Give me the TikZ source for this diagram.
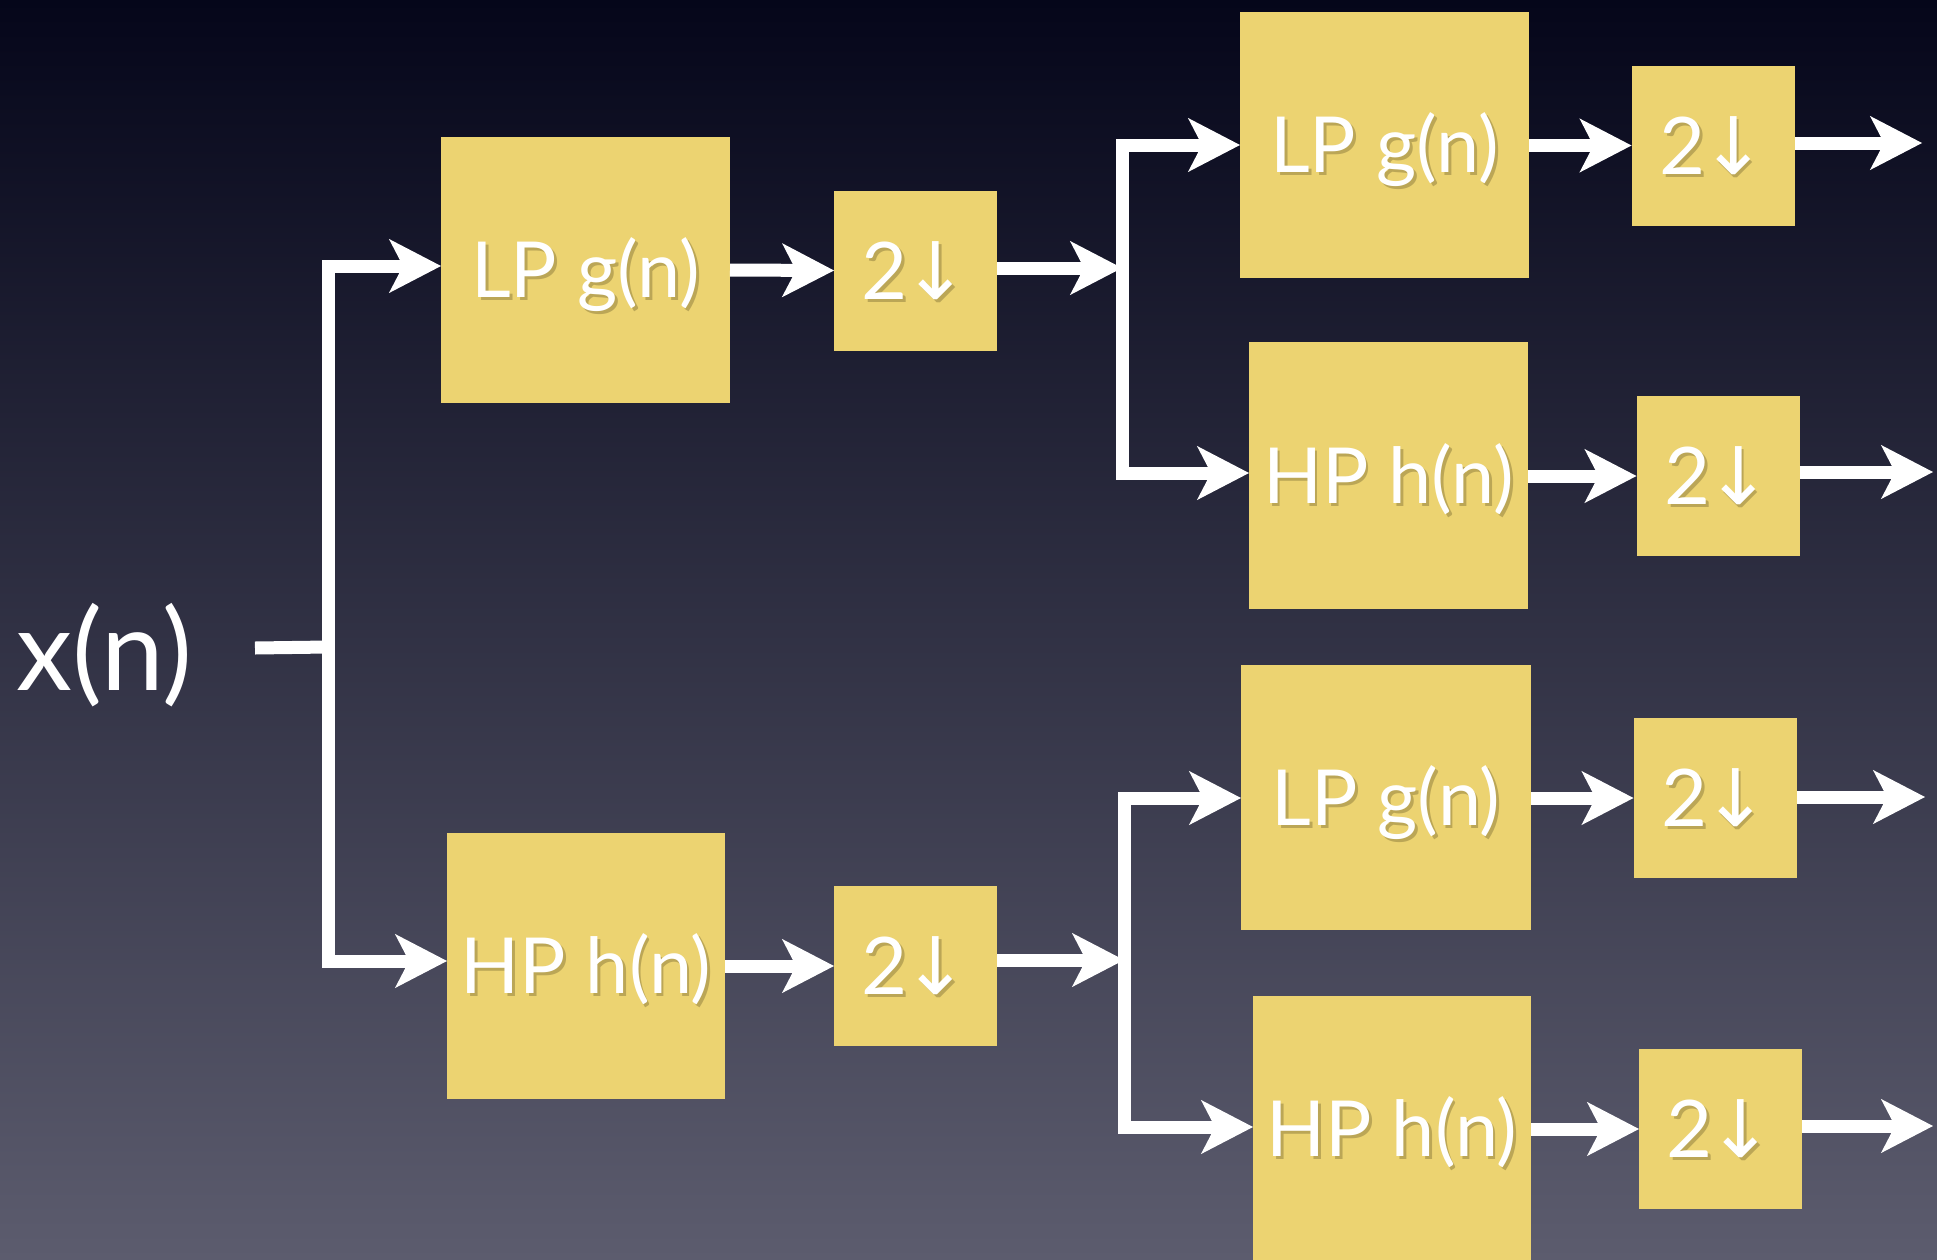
\documentclass[tikz,border=0pt]{standalone}
\usepackage{fontspec}
\setmainfont{Lato}
\newfontfamily\arrowfont{DejaVu Sans}
\usetikzlibrary{arrows.meta}
\definecolor{bgtop}{HTML}{05061A}
\definecolor{bgmid}{HTML}{2C2D47}
\definecolor{bgbot}{HTML}{5C5C6E}
\definecolor{boxyellow}{HTML}{ECD371}
\definecolor{shcol}{HTML}{4A3F18}
\newcommand{\shcopy}[3]{\rlap{\hspace{#1}\raisebox{#2}{\color{shcol}\pgfsetfillopacity{0.3}#3\pgfsetfillopacity{1}}}}
\newcommand{\shtxt}[1]{\leavevmode\shcopy{0.8pt}{-0.9pt}{#1}#1}
\tikzset{
  filt/.style={fill=boxyellow, draw=none, inner sep=0pt, outer sep=0pt,
    text=white, text height=5.5mm, text depth=0pt,
    font=\fontsize{22pt}{22pt}\selectfont},
  dsbox/.style={fill=boxyellow, draw=none, inner sep=0pt, outer sep=0pt,
    text=white, text height=5.7mm, text depth=0pt,
    minimum width=16.3mm, minimum height=16mm,
    font=\fontsize{22.6pt}{23pt}\selectfont},
  wline/.style={white, line width=1.3mm, line join=miter},
  arr/.style={wline, -{Stealth[length=5.2mm, width=5.4mm, inset=1.4mm, line width=0.4pt, fill=white]}},
}
\newcommand{\dn}{\shtxt{2{\arrowfont\kern-1.5pt↓}}}
\begin{document}
\begin{tikzpicture}[x=0.1mm, y=-0.1mm]
\shade[top color=bgtop, middle color=bgmid, bottom color=bgbot] (0,0) rectangle (1937,1260);
\useasboundingbox (0,0) rectangle (1937,1260);

% input
\node[anchor=base west, inner sep=0pt, text=white, font=\fontsize{32pt}{32pt}\selectfont] (xn) at (16,690) {x(n)};

% first stage
\node[filt, minimum width=28.9mm, minimum height=26.6mm] (lp1) at (585.5,270) {\shtxt{LP g(n)}};
\node[dsbox] (dsa) at (915.5,270.5) {\dn};
\node[filt, minimum width=27.8mm, minimum height=26.6mm] (hp1) at (586,966) {\shtxt{HP h(n)}};
\node[dsbox] (dsb) at (915.5,966) {\dn};

% second stage, upper
\node[filt, minimum width=28.9mm, minimum height=26.6mm] (lp2a) at (1384.5,145) {\shtxt{LP g(n)}};
\node[dsbox] (ds1) at (1713,145.5) {\dn};
\node[filt, minimum width=27.9mm, minimum height=26.7mm] (hp2a) at (1388.5,475.5) {\shtxt{HP h(n)}};
\node[dsbox] (ds2) at (1718,476) {\dn};

% second stage, lower
\node[filt, minimum width=29mm, minimum height=26.5mm] (lp2b) at (1386,797.5) {\shtxt{LP g(n)}};
\node[dsbox] (ds3) at (1715,798) {\dn};
\node[filt, minimum width=27.8mm, minimum height=26.6mm] (hp2b) at (1392,1129) {\shtxt{HP h(n)}};
\node[dsbox] (ds4) at (1720.5,1129) {\dn};

% coordinates
\coordinate (s0) at (255,648);
\coordinate (tm) at (328,647);
\coordinate (t1) at (328,266);
\coordinate (t2) at (328,961);
\coordinate (ja) at (1122,268);
\coordinate (ja1) at (1122,145);
\coordinate (ja2) at (1122,473);
\coordinate (jb) at (1124,960);
\coordinate (jb1) at (1124,798);
\coordinate (jb2) at (1124,1127);
\coordinate (o1) at (1922,143);
\coordinate (o2) at (1933,472);
\coordinate (o3) at (1925,797);
\coordinate (o4) at (1933,1126);

% connectors
\draw[wline] (s0) -- (tm);
\draw[arr] (t2) -- (t1) -- (lp1.west |- t1);
\draw[arr] (t1) -- (t2) -- (hp1.west |- t2);

\draw[arr] (lp1.east) -- (dsa.west);
\draw[arr] (dsa.east |- ja) -- (ja);
\draw[arr] (ja2) -- (ja1) -- (lp2a.west |- ja1);
\draw[arr] (ja1) -- (ja2) -- (hp2a.west |- ja2);

\draw[arr] (hp1.east) -- (dsb.west);
\draw[arr] (dsb.east |- jb) -- (jb);
\draw[arr] (jb2) -- (jb1) -- (lp2b.west |- jb1);
\draw[arr] (jb1) -- (jb2) -- (hp2b.west |- jb2);

\draw[arr] (lp2a.east |- ds1) -- (ds1.west);
\draw[arr] (ds1.east |- o1) -- (o1);
\draw[arr] (hp2a.east |- ds2) -- (ds2.west);
\draw[arr] (ds2.east |- o2) -- (o2);
\draw[arr] (lp2b.east |- ds3) -- (ds3.west);
\draw[arr] (ds3.east |- o3) -- (o3);
\draw[arr] (hp2b.east |- ds4) -- (ds4.west);
\draw[arr] (ds4.east |- o4) -- (o4);
\end{tikzpicture}
\end{document}
